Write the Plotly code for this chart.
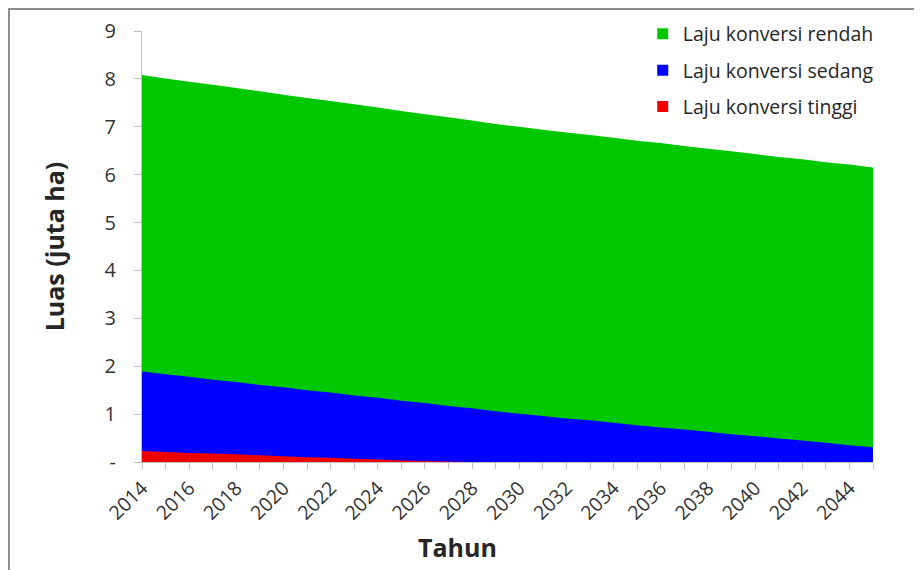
import plotly.graph_objects as go

years = list(range(2014, 2046))
rendah = [8.08, 8.01, 7.94, 7.88, 7.81, 7.74, 7.67, 7.60, 7.54, 7.47, 7.40, 7.33,
          7.26, 7.20, 7.13, 7.06, 7.00, 6.94, 6.88, 6.83, 6.77, 6.71, 6.66, 6.60,
          6.54, 6.49, 6.43, 6.37, 6.32, 6.26, 6.21, 6.15]
sedang = [1.89, 1.83, 1.78, 1.72, 1.67, 1.61, 1.56, 1.50, 1.45, 1.39, 1.34, 1.28,
          1.23, 1.17, 1.12, 1.06, 1.01, 0.96, 0.91, 0.87, 0.82, 0.77, 0.72, 0.68,
          0.63, 0.58, 0.54, 0.49, 0.45, 0.40, 0.35, 0.31]
tinggi = [0.23, 0.21, 0.19, 0.18, 0.16, 0.14, 0.12, 0.10, 0.09, 0.07, 0.05, 0.03,
          0.02, 0.01, 0.0, 0.0, 0.0, 0.0, 0.0, 0.0, 0.0, 0.0, 0.0, 0.0,
          0.0, 0.0, 0.0, 0.0, 0.0, 0.0, 0.0, 0.0]

series_names = ["Laju konversi rendah", "Laju konversi sedang", "Laju konversi tinggi"]
series_colors = ["#00C800", "#0000FF", "#EE0000"]
x_tick_years = list(range(2014, 2045, 2))
x_tick_labels = [str(y) for y in x_tick_years]
y_tick_vals = list(range(0, 10))
y_tick_labels = ["-"] + [str(v) for v in range(1, 10)]

FONT = "Open Sans"
fig = go.Figure()
for name, vals, col in zip(series_names, [rendah, sedang, tinggi], series_colors):
    fig.add_trace(go.Scatter(x=years, y=vals, mode="none", fill="tozeroy",
                             fillcolor=col, name=name, showlegend=False,
                             hoverinfo="x+y"))
for i, (name, col) in enumerate(zip(series_names, series_colors)):
    fig.add_trace(go.Scatter(x=[None], y=[None], mode="markers", name=name,
                             legendgroup=f"g{i}",
                             marker=dict(symbol="square", size=11, color=col)))

# the page adds an 8px body margin, so margins are offset to compensate
fig.update_layout(
    width=922, height=570,
    margin=dict(l=134, r=57, t=23, b=116, autoexpand=False),
    paper_bgcolor="white", plot_bgcolor="white",
    font=dict(family=FONT, color="#404040"),
    showlegend=True,
    legend=dict(x=0.685, y=1.038, xanchor="left", yanchor="top",
                font=dict(family=FONT, size=19.5, color="#262626"),
                bgcolor="rgba(0,0,0,0)", tracegroupgap=8, itemwidth=30),
    xaxis=dict(range=[2014, 2045], tickmode="array", tickvals=x_tick_years,
               ticktext=x_tick_labels, tickangle=-45, ticks="outside", ticklen=6,
               tickcolor="#BFBFBF", showgrid=False, zeroline=False,
               showline=True, linecolor="#BFBFBF", linewidth=1,
               automargin=False,
               tickfont=dict(family=FONT, size=19.5, color="#333333"),
               minor=dict(dtick=1, tick0=2014, ticks="outside", ticklen=6,
                          tickcolor="#BFBFBF", showgrid=False)),
    yaxis=dict(range=[0, 9], tickmode="array", tickvals=y_tick_vals,
               ticktext=y_tick_labels, ticks="outside", ticklen=7,
               tickcolor="#BFBFBF", showgrid=False, zeroline=False,
               showline=True, linecolor="#BFBFBF", linewidth=1,
               ticklabelstandoff=14, automargin=False,
               tickfont=dict(family=FONT, size=20, color="#333333"),
               title=dict(text="<b>Luas (juta ha)</b>", standoff=32,
                          font=dict(family=FONT, size=25, color="#262626"))),
)

fig.add_annotation(text="<b>Tahun</b>", xref="paper", yref="paper",
                   x=(457 - 142) / 731, y=(462 - 547) / 431,
                   xanchor="center", yanchor="middle", showarrow=False,
                   font=dict(family=FONT, size=25, color="#262626"))

# chart-area border (Excel style)
fig.add_shape(type="rect", xref="paper", yref="paper",
              x0=(9 - 142) / 731, x1=(935 - 142) / 731,
              y0=(462 - 590) / 431, y1=(462 - 9) / 431,
              line=dict(color="#8C8C8C", width=2), fillcolor="rgba(0,0,0,0)",
              layer="below")

fig.write_html("out.html")
